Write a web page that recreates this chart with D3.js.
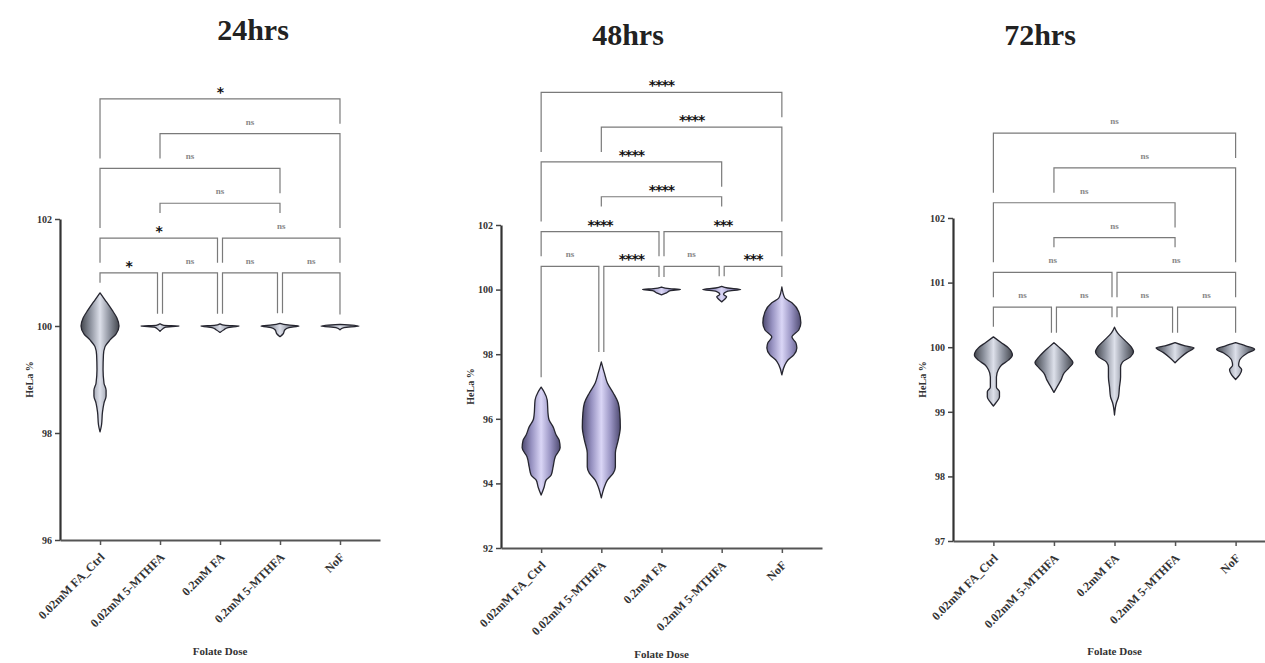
<!DOCTYPE html>
<html>
<head>
<meta charset="utf-8">
<script src="https://cdn.jsdelivr.net/npm/d3@7"></script>
<style>
  body { margin: 0; background: #fff; }
  svg { display: block; }
</style>
</head>
<body>
<svg id="chart"></svg>
<script>
// categories
var groups = ["0.02mM FA_Ctrl", "0.02mM 5-MTHFA", "0.2mM FA", "0.2mM 5-MTHFA", "NoF"];

// violin outlines: [value, relative density]
var v24 = [
  [[100.62,0],[100.49,0.26],[100.30,0.63],[100.15,0.89],[100.0,1],[99.85,0.84],[99.74,0.53],[99.61,0.26],[99.46,0.18],[99.18,0.16],[98.93,0.21],[98.80,0.32],[98.69,0.32],[98.56,0.21],[98.39,0.13],[98.15,0.08],[98.02,0]],
  [[100.04,0],[100.01,0.2],[100.0,1],[99.98,0.3],[99.95,0.15],[99.9,0]],
  [[100.04,0],[100.01,0.3],[100.0,1],[99.97,0.42],[99.93,0.21],[99.88,0]],
  [[100.05,0],[100.02,0.42],[100.0,1],[99.97,0.47],[99.93,0.26],[99.85,0.16],[99.8,0]],
  [[100.03,0],[100.0,1],[99.97,0.21],[99.93,0]]
];
var v48 = [
  [[96.98,0],[96.83,0.16],[96.58,0.32],[96.12,0.37],[95.96,0.42],[95.75,0.63],[95.5,0.79],[95.34,0.95],[95.10,1],[94.82,0.74],[94.51,0.63],[94.26,0.53],[94.1,0.26],[93.89,0.16],[93.64,0]],
  [[97.76,0],[97.42,0.16],[97.11,0.32],[96.80,0.63],[96.49,0.89],[96.18,0.97],[95.75,1],[95.34,0.89],[94.94,0.74],[94.51,0.74],[94.32,0.63],[94.1,0.32],[93.89,0.16],[93.55,0]],
  [[100.08,0],[100.03,0.42],[100.0,1],[99.97,0.47],[99.9,0.26],[99.84,0]],
  [[100.1,0],[100.05,0.32],[100.0,1],[99.95,0.32],[99.85,0.1],[99.78,0.26],[99.7,0.16],[99.62,0]],
  [[100.08,0],[99.74,0.16],[99.59,0.53],[99.31,0.89],[98.97,1],[98.75,0.89],[98.53,0.53],[98.35,0.74],[98.19,0.79],[97.98,0.63],[97.82,0.32],[97.67,0.16],[97.36,0]]
];
var v72 = [
  [[100.16,0],[100.07,0.42],[99.99,0.79],[99.88,1],[99.80,0.79],[99.72,0.42],[99.65,0.26],[99.54,0.16],[99.38,0.16],[99.31,0.32],[99.23,0.32],[99.15,0.16],[99.09,0]],
  [[100.07,0],[99.96,0.42],[99.85,0.79],[99.76,1],[99.68,0.79],[99.60,0.53],[99.49,0.37],[99.41,0.21],[99.30,0]],
  [[100.31,0],[100.22,0.16],[100.11,0.53],[100.0,0.89],[99.93,1],[99.85,0.84],[99.77,0.42],[99.69,0.32],[99.54,0.32],[99.38,0.26],[99.23,0.21],[99.14,0.1],[98.95,0]],
  [[100.07,0],[100.02,0.53],[99.99,1],[99.92,0.63],[99.85,0.32],[99.76,0]],
  [[100.07,0],[100.02,0.53],[99.97,1],[99.91,0.63],[99.80,0.21],[99.72,0.16],[99.65,0.32],[99.57,0.21],[99.50,0]]
];

// tick labels
var ticks24 = [96, 98, 100, 102];
var ticks48 = [92, 94, 96, 98, 100, 102];
var ticks72 = [97, 98, 99, 100, 101, 102];

// comparisons (group index pairs), their stacking level, and significance
var pairs = [[0,1],[1,2],[2,3],[3,4],[0,2],[2,4],[1,3],[0,3],[1,4],[0,4]];
var pairLevels = [0,0,0,0,1,1,2,3,4,5];
var sig24 = ["*","ns","ns","ns","*","ns","ns","ns","ns","*"];
var sig48 = ["ns","****","ns","***","****","***","****","****","****","****"];
var sig72 = ["ns","ns","ns","ns","ns","ns","ns","ns","ns","ns"];

var titles = ["24hrs", "48hrs", "72hrs"];

//layout of the three panels
var panels = [
  {title: titles[0], data: v24, ticks: ticks24, sig: sig24, x0: 60, x1: 380, top: 219, bottom: 540, titleX: 253, titleY: 40, fill: "grey", xTitleY: 655},
  {title: titles[1], data: v48, ticks: ticks48, sig: sig48, x0: 501, x1: 822, top: 225, bottom: 548, titleX: 628, titleY: 45, fill: "lav", xTitleY: 658},
  {title: titles[2], data: v72, ticks: ticks72, sig: sig72, x0: 953, x1: 1276, top: 218, bottom: 541, titleX: 1040, titleY: 45, fill: "grey", xTitleY: 655}
];

var width = 1265, height = 663;
var svg = d3.select("#chart").attr("width", width).attr("height", height);

// gradients for violin fill
var defs = svg.append("defs");
var grads = {
  grey: ["#44474e", "#8d929e", "#dde0ea", "#8d929e", "#44474e"],
  lav:  ["#4f4b72", "#9893c2", "#dad6f6", "#9893c2", "#4f4b72"]
};
Object.keys(grads).forEach(function(k) {
  var g = defs.append("linearGradient").attr("id", "grad-" + k)
    .attr("x1", 0).attr("x2", 1).attr("y1", 0).attr("y2", 0);
  grads[k].forEach(function(c, i) {
    g.append("stop").attr("offset", (i / 4 * 100) + "%").attr("stop-color", c);
  });
});

var serif = "'Liberation Serif', 'DejaVu Serif', serif";
var hw = d3.scaleLinear().domain([0, 1]).range([0, 19]);
var levelStep = 34.8;

panels.forEach(function(p) {
  var x = d3.scalePoint().domain(groups).range([p.x0, p.x1]).padding(0.667);
  var y = d3.scaleLinear().domain([d3.min(p.ticks), d3.max(p.ticks)]).range([p.bottom, p.top]);
  var g = svg.append("g");

  // title
  g.append("text")
    .attr("x", p.titleX).attr("y", p.titleY)
    .attr("text-anchor", "middle")
    .style("font-family", serif).style("font-weight", "bold")
    .style("font-size", "30px").style("fill", "#222")
    .text(p.title);

  // y axis
  var yAxis = d3.axisLeft(y).tickValues(p.ticks).tickSize(5).tickSizeOuter(0).tickFormat(d3.format("d"));
  var ya = g.append("g").attr("transform", "translate(" + p.x0 + ",0)").call(yAxis);
  ya.select(".domain").attr("stroke", "#333").attr("stroke-width", 2.2);
  ya.selectAll(".tick line").attr("stroke", "#444").attr("stroke-width", 1.5);
  ya.selectAll(".tick text")
    .style("font-family", serif).style("font-weight", "bold")
    .style("font-size", "10px").style("fill", "#333");

  // x axis
  var xAxis = d3.axisBottom(x).tickSize(5).tickSizeOuter(0);
  var xa = g.append("g").attr("transform", "translate(0," + p.bottom + ")").call(xAxis);
  xa.select(".domain").attr("stroke", "#555").attr("stroke-width", 2.2);
  xa.selectAll(".tick line").attr("stroke", "#555").attr("stroke-width", 1.5);
  xa.selectAll(".tick text")
    .style("font-family", serif).style("font-weight", "bold")
    .style("font-size", "12px").style("fill", "#333")
    .attr("text-anchor", "end")
    .attr("dx", "-0.3em").attr("dy", "0.2em")
    .attr("transform", "translate(0,8) rotate(-45)");

  // axis titles
  g.append("text")
    .attr("x", (p.x0 + p.x1) / 2).attr("y", p.xTitleY)
    .attr("text-anchor", "middle")
    .style("font-family", serif).style("font-weight", "bold")
    .style("font-size", "11px").style("fill", "#333")
    .text("Folate Dose");
  g.append("text")
    .attr("transform", "translate(" + (p.x0 - 27) + "," + ((p.top + p.bottom) / 2) + ") rotate(-90)")
    .attr("text-anchor", "middle")
    .style("font-family", serif).style("font-weight", "bold")
    .style("font-size", "10px").style("fill", "#333")
    .text("HeLa %");

  // violins
  var area = d3.area()
    .curve(d3.curveMonotoneY)
    .y(function(d) { return y(d[0]); });
  p.data.forEach(function(prof, i) {
    var cx = x(groups[i]);
    area.x0(function(d) { return cx - hw(d[1]); })
        .x1(function(d) { return cx + hw(d[1]); });
    g.append("path")
      .attr("d", area(prof))
      .attr("fill", "url(#grad-" + p.fill + ")")
      .attr("stroke", "#262630").attr("stroke-width", 1.3)
      .attr("stroke-linejoin", "round");
  });

  // significance brackets
  var dataTop = p.data.map(function(prof) { return y(d3.max(prof, function(d) { return d[0]; })); });
  var base = d3.min(dataTop) - 20;
  var comps = pairs.map(function(pr, k) {
    var lvl = pairLevels[k];
    var shareL = pairs.some(function(o, j) { return j !== k && pairLevels[j] === lvl && o[1] === pr[0]; });
    var shareR = pairs.some(function(o, j) { return j !== k && pairLevels[j] === lvl && o[0] === pr[1]; });
    var xl = x(groups[pr[0]]) + (shareL ? 2.5 : 0);
    var xr = x(groups[pr[1]]) - (shareR ? 2.5 : 0);
    var lab = p.sig[k];
    var lw = lab === "ns" ? 11 : lab.length * 8.5;
    return {a: pr[0], b: pr[1], lvl: lvl, xl: xl, xr: xr, ly: base - lvl * levelStep, lab: lab, lw: lw};
  });

  function armBottom(c, xe, gi) {
    var lim = dataTop[gi];
    comps.forEach(function(o) {
      if (o.lvl >= c.lvl) return;
      if (xe >= o.xl - 1 && xe <= o.xr + 1) lim = Math.min(lim, o.ly);
      var mid = (o.xl + o.xr) / 2;
      if (Math.abs(xe - mid) < o.lw / 2 + 2) lim = Math.min(lim, o.ly - 15);
    });
    return Math.max(lim - 10, c.ly + 6);
  }

  comps.forEach(function(c) {
    var bl = armBottom(c, c.xl, c.a), br = armBottom(c, c.xr, c.b);
    g.append("path")
      .attr("d", "M" + c.xl + "," + bl + "V" + c.ly + "H" + c.xr + "V" + br)
      .attr("fill", "none").attr("stroke", "#7a7a7a").attr("stroke-width", 1.2);
    var isNs = c.lab === "ns";
    g.append("text")
      .attr("x", (c.xl + c.xr) / 2)
      .attr("y", c.ly - (isNs ? 9 : 2))
      .attr("text-anchor", "middle")
      .style("font-family", isNs ? serif : "'DejaVu Sans', sans-serif")
      .style("font-weight", "bold")
      .style("font-size", isNs ? "9px" : "14px")
      .style("fill", isNs ? "#888" : "#111")
      .style("letter-spacing", isNs ? "0px" : "-1px")
      .text(c.lab);
  });
});
</script>
</body>
</html>
